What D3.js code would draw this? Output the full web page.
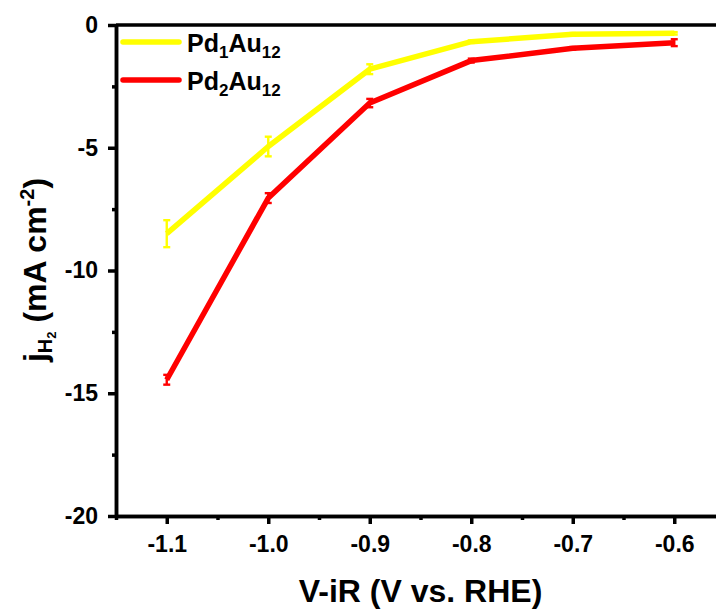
<!DOCTYPE html>
<html>
<head>
<meta charset="utf-8">
<script src="https://cdn.jsdelivr.net/npm/d3@7"></script>
<style>
  body { margin: 0; background: #fff; }
  svg text { font-family: "Liberation Sans", Arial, sans-serif; font-weight: bold; fill: #000; }
</style>
</head>
<body>
<svg></svg>
<script>
// potentials (V vs. RHE)
let potentials=[-1.1,-1.0,-0.9,-0.8,-0.7,-0.6]
// current density of H2, mA cm-2
let pd1Values=[-8.5,-4.95,-1.8,-0.68,-0.38,-0.34]
let pd1Errors=[0.55,0.4,0.2,0.05,0.05,0.05]
let pd2Values=[-14.45,-7.05,-3.18,-1.45,-0.95,-0.72]
let pd2Errors=[0.2,0.2,0.17,0.08,0.05,0.14]
let seriesNames=['Pd1Au12','Pd2Au12']
let seriesColors=['#ffff00','#ff0000']

let xTicks=[-1.1,-1.0,-0.9,-0.8,-0.7,-0.6]
let xMinorTicks=[-1.15,-1.05,-0.95,-0.85,-0.75,-0.65,-0.55]
let yTicks=[0,-5,-10,-15,-20]
let yMinorTicks=[-2.5,-7.5,-12.5,-17.5]

let width=716
let height=610
let plotLeft=116
let plotRight=725
let plotTop=25
let plotBottom=516

let svg=d3.select('svg').attr('width',width).attr('height',height)

let xScale=d3.scaleLinear().domain([-1.15,-0.55]).range([plotLeft,plotRight])
let yScale=d3.scaleLinear().domain([-20,0]).range([plotBottom,plotTop])

// data lines
let series=[
    {name:seriesNames[0],color:seriesColors[0],values:pd1Values,errors:pd1Errors},
    {name:seriesNames[1],color:seriesColors[1],values:pd2Values,errors:pd2Errors}
]

let line=d3.line()
    .x((d)=>xScale(d[0]))
    .y((d)=>yScale(d[1]))

series.forEach((s)=>{
    let pts=potentials.map((p,i)=>[p,s.values[i],s.errors[i]])
    svg.append('path')
        .datum(pts)
        .attr('d',line)
        .attr('fill','none')
        .attr('stroke',s.color)
        .attr('stroke-width',5.5)
        .attr('stroke-linejoin','round')

    let eb=svg.append('g').attr('stroke',s.color).attr('stroke-width',2.4)
    pts.forEach((d)=>{
        let x=xScale(d[0])
        let y1=yScale(d[1]+d[2])
        let y2=yScale(d[1]-d[2])
        eb.append('line').attr('x1',x).attr('x2',x).attr('y1',y1).attr('y2',y2)
        eb.append('line').attr('x1',x-3.5).attr('x2',x+3.5).attr('y1',y1).attr('y2',y1)
        eb.append('line').attr('x1',x-3.5).attr('x2',x+3.5).attr('y1',y2).attr('y2',y2)
    })
})

// axes
let xAxis=d3.axisBottom(xScale).tickValues(xTicks).tickSize(8).tickPadding(12)
    .tickFormat(d3.format('.1f')).tickSizeOuter(0)
let xMinor=d3.axisBottom(xScale).tickValues(xMinorTicks).tickSize(4).tickFormat('').tickSizeOuter(0)
let yAxis=d3.axisLeft(yScale).tickValues(yTicks).tickSize(8).tickPadding(10).tickSizeOuter(0)
    .tickFormat(d3.format('d'))
let yMinor=d3.axisLeft(yScale).tickValues(yMinorTicks).tickSize(4).tickFormat('').tickSizeOuter(0)

svg.append('g').attr('transform','translate(0,'+plotBottom+')').call(xAxis)
svg.append('g').attr('transform','translate(0,'+plotBottom+')').call(xMinor)
svg.append('g').attr('transform','translate('+plotLeft+',0)').call(yAxis)
svg.append('g').attr('transform','translate('+plotLeft+',0)').call(yMinor)

svg.selectAll('.domain,.tick line').attr('stroke','#000').attr('stroke-width',3.5)
svg.selectAll('.tick text').style('font-size','23px').attr('fill','#000')
    .text(function(){ return this.textContent.replace('\u2212','-') })

// frame (top and right)
svg.append('path')
    .attr('d','M'+plotLeft+','+plotTop+'H'+plotRight+'V'+plotBottom)
    .attr('fill','none').attr('stroke','#000').attr('stroke-width',3.5)

// axis titles
svg.append('text')
    .attr('x',(plotLeft+plotRight)/2)
    .attr('y',602)
    .attr('text-anchor','middle')
    .style('font-size','32px')
    .text('V-iR (V vs. RHE)')

let yt=svg.append('text')
    .attr('transform','translate(46,270) rotate(-90)')
    .attr('text-anchor','middle')
    .style('font-size','32px')
yt.append('tspan').text('j')
yt.append('tspan').attr('dy',6).style('font-size','20px').text('H')
yt.append('tspan').attr('dy',4).style('font-size','13px').text('2')
yt.append('tspan').attr('dy',-10).text(' (mA cm')
yt.append('tspan').attr('dy',-12).style('font-size','20px').text('-2')
yt.append('tspan').attr('dy',12).text(')')

// legend
let legendY=[42,80]
series.forEach((s,i)=>{
    svg.append('line')
        .attr('x1',123).attr('x2',179)
        .attr('y1',legendY[i]).attr('y2',legendY[i])
        .attr('stroke',s.color).attr('stroke-width',5.5).attr('stroke-linecap','round')
    let t=svg.append('text').attr('x',187).attr('y',legendY[i]+10).style('font-size','25px')
    t.append('tspan').text('Pd')
    t.append('tspan').attr('dy',6).style('font-size','17px').text(s.name.slice(2,3))
    t.append('tspan').attr('dy',-6).text('Au')
    t.append('tspan').attr('dy',6).style('font-size','17px').text('12')
})
</script>
</body>
</html>
